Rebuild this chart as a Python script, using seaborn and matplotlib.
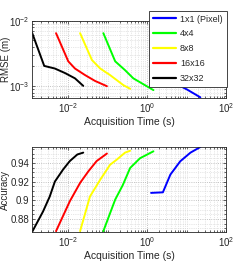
import numpy as np
import pandas as pd
import seaborn as sns
import matplotlib
matplotlib.use("Agg")
import matplotlib.pyplot as plt
from matplotlib.ticker import LogLocator, NullFormatter, FixedLocator, FuncFormatter

methods = ['1x1 (Pixel)', '4x4', '8x8', '16x16', '32x32']
colors = {'1x1 (Pixel)': '#0000ff', '4x4': '#00ff00', '8x8': '#ffff00',
          '16x16': '#ff0000', '32x32': '#000000'}

# RMSE panel (log10 of time, log10 of rmse)
rmse_t = {
    '32x32': [-2.92, -2.61, -2.34, -2.08, -1.83, -1.62],
    '16x16': [-2.31, -2.0, -1.83, -1.575, -1.32, -1.02],
    '8x8': [-1.70, -1.40, -1.19, -0.94, -0.60, -0.43],
    '4x4': [-1.11, -0.81, -0.56, -0.35, 0.16],
    '1x1 (Pixel)': [0.10, 0.33, 0.54, 0.72, 1.01, 1.35],
}
rmse_v = {
    '32x32': [-2.18, -2.69, -2.73, -2.80, -2.88, -2.995],
    '16x16': [-2.19, -2.62, -2.73, -2.83, -2.92, -3.0],
    '8x8': [-2.19, -2.60, -2.73, -2.83, -2.985, -3.04],
    '4x4': [-2.19, -2.62, -2.755, -2.88, -3.06],
    '1x1 (Pixel)': [-2.18, -2.60, -2.86, -2.96, -3.05, -3.17],
}

# Accuracy panel (log10 of time, accuracy)
acc_t = {
    '32x32': [-2.91, -2.64, -2.47, -2.34, -2.13, -1.96, -1.77, -1.62],
    '16x16': [-2.31, -1.96, -1.70, -1.49, -1.28, -1.02],
    '8x8': [-1.70, -1.45, -1.19, -0.94, -0.77, -0.56, -0.43],
    '4x4': [-1.11, -0.81, -0.62, -0.43, -0.18, 0.16],
    '1x1 (Pixel)': [0.10, 0.40, 0.59, 0.84, 1.10, 1.35],
}
acc_v = {
    '32x32': [0.8667, 0.888, 0.904, 0.920, 0.933, 0.942, 0.949, 0.951],
    '16x16': [0.867, 0.899, 0.9186, 0.931, 0.942, 0.950],
    '8x8': [0.867, 0.904, 0.922, 0.938, 0.9435, 0.951, 0.953],
    '4x4': [0.867, 0.9007, 0.916, 0.9346, 0.945, 0.9524],
    '1x1 (Pixel)': [0.9079, 0.9085, 0.9275, 0.9417, 0.951, 0.957],
}


def make_df(tdict, vdict, logv):
    rows = []
    for m in methods:
        for t, v in zip(tdict[m], vdict[m]):
            rows.append({'method': m, 'time': 10 ** t, 'value': 10 ** v if logv else v})
    return pd.DataFrame(rows)


df_rmse = make_df(rmse_t, rmse_v, True)
df_acc = make_df(acc_t, acc_v, False)

sns.set_style('ticks')
plt.rcParams['font.family'] = ['Liberation Sans', 'DejaVu Sans']
plt.rcParams['font.size'] = 7

fig = plt.figure(figsize=(2.49, 2.73), dpi=100)
ax1 = fig.add_axes([0.1285, 0.641, 0.779, 0.283])
ax2 = fig.add_axes([0.1285, 0.150, 0.779, 0.3115])

sns.lineplot(data=df_rmse, x='time', y='value', hue='method', hue_order=methods,
             palette=colors, sort=False, estimator=None, lw=1.4, ax=ax1)
sns.lineplot(data=df_acc, x='time', y='value', hue='method', hue_order=methods,
             palette=colors, sort=False, estimator=None, lw=1.4, ax=ax2, legend=False)

for ax in (ax1, ax2):
    ax.set_xscale('log')
    ax.set_xlim(10 ** -2.92, 100)
    ax.xaxis.set_major_locator(FixedLocator([1e-2, 1, 1e2]))
    ax.xaxis.set_minor_locator(LogLocator(base=10, subs=np.arange(1, 10), numticks=20))
    ax.xaxis.set_minor_formatter(NullFormatter())
    ax.set_xlabel('Acquisition Time (s)', fontsize=7.5, labelpad=2)
    ax.grid(True, which='major', ls=':', color='#b0b0b0', lw=0.6)
    ax.grid(True, which='minor', ls=':', color='#d0d0d0', lw=0.5)
    ax.tick_params(which='both', direction='in', top=True, right=True, labelsize=7,
                   length=2, width=0.5, pad=2, colors='#262626')
    ax.tick_params(which='minor', length=1.2)
    for s in ax.spines.values():
        s.set_linewidth(0.6)
        s.set_color('#262626')

ax1.set_yscale('log')
ax1.set_ylim(6.6e-4, 1e-2)
ax1.yaxis.set_major_locator(FixedLocator([1e-3, 1e-2]))
ax1.yaxis.set_minor_locator(LogLocator(base=10, subs=np.arange(1, 10), numticks=20))
ax1.yaxis.set_minor_formatter(NullFormatter())
ax1.set_ylabel('RMSE (m)', fontsize=7)
ax1.yaxis.set_label_coords(-0.108, 0.5)

ax2.set_ylim(0.866, 0.957)
ax2.set_yticks([0.88, 0.9, 0.92, 0.94])
ax2.set_yticks(np.arange(0.87, 0.957, 0.005), minor=True)
ax2.yaxis.set_major_formatter(FuncFormatter(lambda v, p: ('%g' % round(v, 2))))
ax2.set_ylabel('Accuracy', fontsize=7)
ax2.yaxis.set_label_coords(-0.112, 0.5)

handles, labels = ax1.get_legend_handles_labels()
ax1.get_legend().remove()
leg = fig.legend(handles, labels, loc='upper right', bbox_to_anchor=(0.928, 0.978),
                 fontsize=6.5, fancybox=False, framealpha=1, edgecolor='#262626',
                 handlelength=2.6, handletextpad=0.4, borderpad=0.45, labelspacing=0.65)
leg.get_frame().set_linewidth(0.6)
for h in leg.legend_handles:
    h.set_linewidth(1.6)

fig.savefig('out.png', dpi=100)
